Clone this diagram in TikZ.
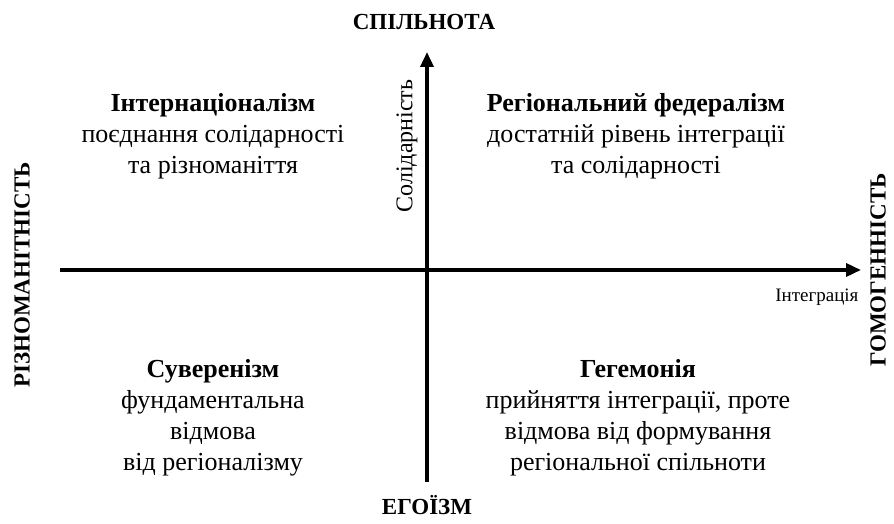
\documentclass[tikz,border=0pt]{standalone}
\usepackage{fontspec}
\setmainfont{Liberation Serif}
\usetikzlibrary{arrows.meta}

\begin{document}
\begin{tikzpicture}[
		x=1pt, y=-1pt,
		axis/.style={
			-{Triangle[length=15pt,width=13pt]},
			line width=3.5pt,
		},
		pole/.style={
			font=\fontsize{23}{26}\selectfont\bfseries,
		},
		quad/.style={
			align=center,
			font=\fontsize{26}{31}\selectfont,
		},
		axlabel/.style={
			font=\fontsize{19}{22}\selectfont,
		},
	]
	\useasboundingbox (0,0) rectangle (894,524);

	% axes
	\coordinate (W) at (60,270);
	\coordinate (E) at (861,270);
	\coordinate (S) at (427,482);
	\coordinate (N) at (427,52);
	\draw [axis] (W) -- (E);
	\draw [axis] (S) -- (N);

	% poles
	\node [pole] (comm) at (424,22) {СПІЛЬНОТА};
	\node [pole] (ego) at (427,505) {ЕГОЇЗМ};
	\node [pole, rotate=90] (div) at (22,275) {РІЗНОМАНІТНІСТЬ};
	\node [pole, rotate=90] (hom) at (878,270) {ГОМОГЕННІСТЬ};

	% axis labels
	\node [axlabel, rotate=90, font=\fontsize{24}{27}\selectfont] (sol) at (407,146) {Солідарність};
	\node [axlabel, anchor=east] (int) at (862,297) {Інтеграція};

	% quadrants
	\node [quad] (intl) at (213,136) {\textbf{Інтернаціоналізм}\\поєднання солідарності\\та різноманіття};
	\node [quad] (fed) at (636,136) {\textbf{Регіональний федералізм}\\достатній рівень інтеграції\\та солідарності};
	\node [quad] (sov) at (213,418) {\textbf{Суверенізм}\\фундаментальна\\відмова\\від регіоналізму};
	\node [quad] (heg) at (638,418) {\textbf{Гегемонія}\\прийняття інтеграції, проте\\відмова від формування\\регіональної спільноти};

\end{tikzpicture}
\end{document}
